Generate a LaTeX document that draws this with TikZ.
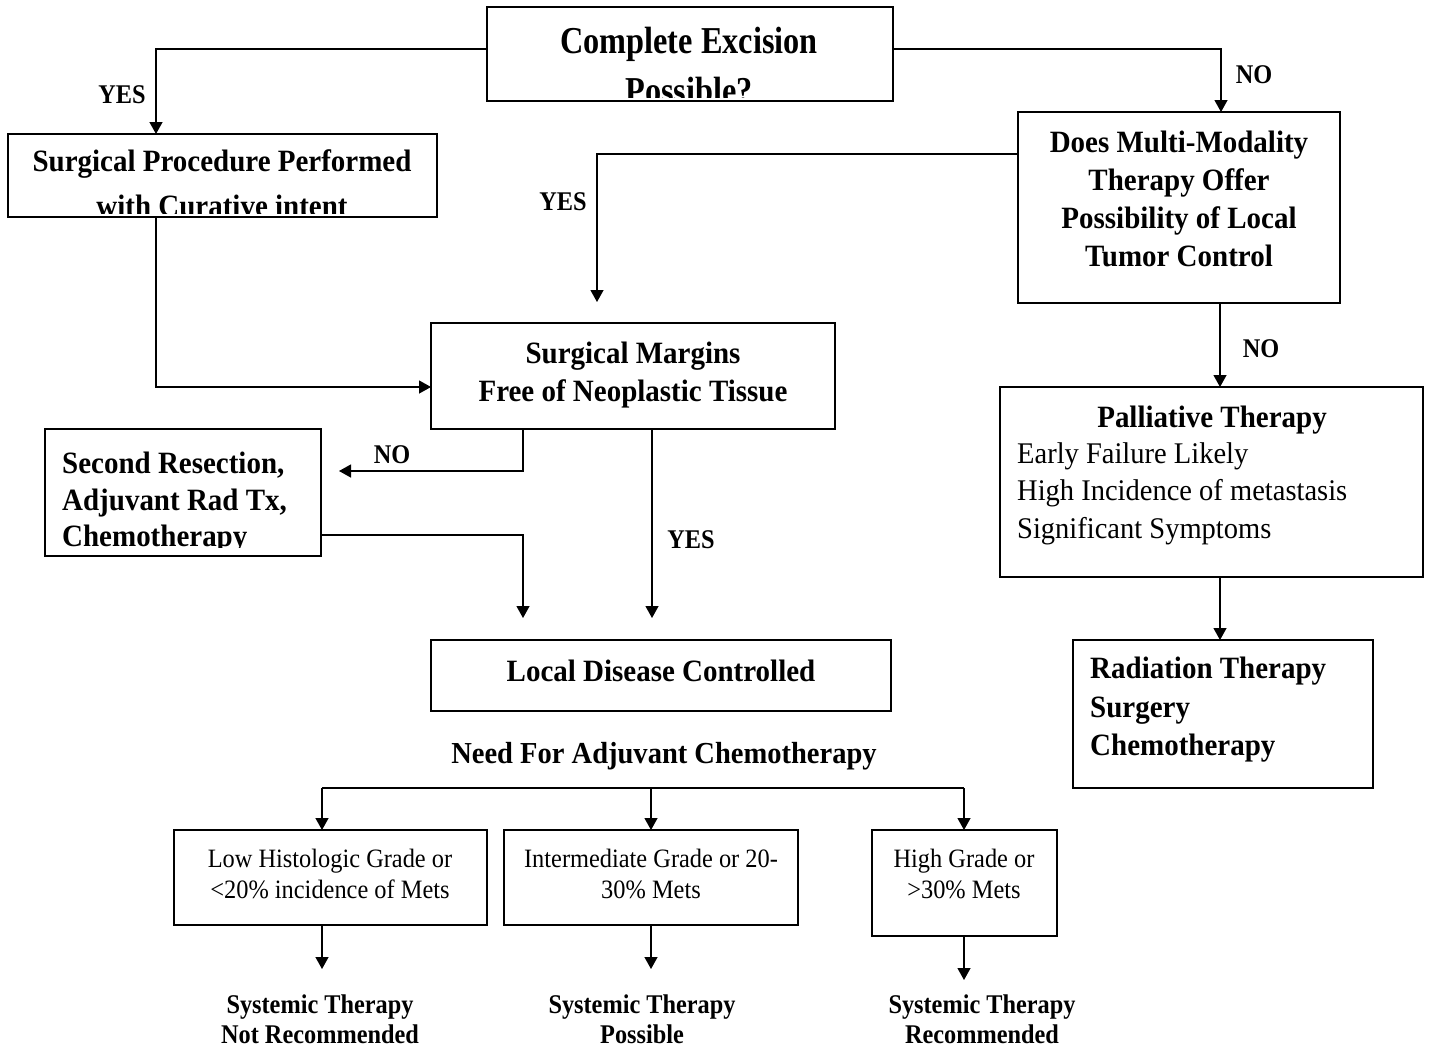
\documentclass[tikz,border=0pt]{standalone}
\usepackage{fontspec}
\setmainfont{Liberation Serif}
\newfontfamily\ttlfont{Liberation Serif}[FakeStretch=0.85]
\newfontfamily\mbfont{Liberation Serif}[FakeStretch=0.935]
\newfontfamily\sbfont{Liberation Serif}[FakeStretch=0.9]
\newfontfamily\rgafont{Liberation Serif}[FakeStretch=0.95]
\newfontfamily\rgbfont{Liberation Serif}[FakeStretch=0.92]
\usetikzlibrary{arrows.meta}
\begin{document}
\begin{tikzpicture}[x=1pt,y=-1pt,
  box/.style={draw, line width=1.3pt, inner sep=0pt, outer sep=0pt},
  ln/.style={line width=1.3pt},
  arr/.style={ln, -{Triangle[length=12pt,width=13pt]}},
  ttxt/.style={anchor=base, inner sep=0pt, font=\ttlfont\bfseries\fontsize{38}{44}\selectfont},
  btxt/.style={anchor=base, inner sep=0pt, font=\mbfont\bfseries\fontsize{31}{36}\selectfont},
  ltxt/.style={anchor=base, inner sep=0pt, font=\sbfont\bfseries\fontsize{27}{32}\selectfont},
  rtxt/.style={anchor=base, inner sep=0pt, font=\rgafont\fontsize{30}{36}\selectfont},
  stxt/.style={anchor=base, inner sep=0pt, font=\rgbfont\fontsize{26.5}{31}\selectfont},
]
\fill[white] (0,0) rectangle (1429,1050);
\useasboundingbox (0,0) rectangle (1429,1050);

% boxes
\node[box, minimum width=406pt, minimum height=94pt] (top) at (690,54) {};
\node[box, minimum width=429pt, minimum height=83pt] (surg) at (222.5,175.5) {};
\node[box, minimum width=322pt, minimum height=191pt] (does) at (1179,207.5) {};
\node[box, minimum width=404pt, minimum height=106pt] (marg) at (633,376) {};
\node[box, minimum width=276pt, minimum height=127pt] (second) at (183,492.5) {};
\node[box, minimum width=460pt, minimum height=71pt] (local) at (661,675.5) {};
\node[box, minimum width=423pt, minimum height=190pt] (pall) at (1211.5,482) {};
\node[box, minimum width=300pt, minimum height=148pt] (rad) at (1223,714) {};
\node[box, minimum width=313pt, minimum height=95pt] (boxa) at (330.5,877.5) {};
\node[box, minimum width=294pt, minimum height=95pt] (boxb) at (651,877.5) {};
\node[box, minimum width=185pt, minimum height=106pt] (boxc) at (964.5,883) {};

% clipped texts
\begin{scope}
  \clip (487,7) rectangle (893,97);
  \node[ttxt] (t1) at (689,53) {Complete Excision};
  \node[ttxt] (t2) at (689,103) {Possible?};
\end{scope}
\begin{scope}
  \clip (8,134) rectangle (437,213);
  \node[btxt] (s1) at (222,171) {Surgical Procedure Performed};
  \node[btxt] (s2) at (222,216) {with Curative intent};
\end{scope}
\begin{scope}
  \clip (45,429) rectangle (321,547);
  \node[btxt, anchor=base west] (r1) at (62,473) {Second Resection,};
  \node[btxt, anchor=base west] (r2) at (62,510) {Adjuvant Rad Tx,};
  \node[btxt, anchor=base west] (r3) at (62,546) {Chemotherapy};
\end{scope}

% other texts
\node[btxt] (d1) at (1179,152) {Does Multi-Modality};
\node[btxt] (d2) at (1179,190) {Therapy Offer};
\node[btxt] (d3) at (1179,228) {Possibility of Local};
\node[btxt] (d4) at (1179,266) {Tumor Control};

\node[btxt] (m1) at (633,363) {Surgical Margins};
\node[btxt] (m2) at (633,401) {Free of Neoplastic Tissue};

\node[btxt] (lc) at (661,681) {Local Disease Controlled};
\node[btxt, font=\mbfont\bfseries\fontsize{30.5}{36}\selectfont] (need) at (664,763) {Need For Adjuvant Chemotherapy};

\node[btxt] (p1) at (1212,427) {Palliative Therapy};
\node[rtxt, anchor=base west] (p2) at (1017,463) {Early Failure Likely};
\node[rtxt, anchor=base west] (p3) at (1017,500) {High Incidence of metastasis};
\node[rtxt, anchor=base west] (p4) at (1017,538) {Significant Symptoms};

\node[btxt, anchor=base west] (q1) at (1090,678) {Radiation Therapy};
\node[btxt, anchor=base west] (q2) at (1090,717) {Surgery};
\node[btxt, anchor=base west] (q3) at (1090,755) {Chemotherapy};

\node[stxt] (a1) at (330,867) {Low Histologic Grade or};
\node[stxt] (a2) at (330,898) {<20\% incidence of Mets};
\node[stxt] (b1) at (651,867) {Intermediate Grade or 20-};
\node[stxt] (b2) at (651,898) {30\% Mets};
\node[stxt] (c1) at (964,867) {High Grade or};
\node[stxt] (c2) at (964,898) {>30\% Mets};

\node[ltxt] (sa1) at (320,1013) {Systemic Therapy};
\node[ltxt] (sa2) at (320,1043) {Not Recommended};
\node[ltxt] (sb1) at (642,1013) {Systemic Therapy};
\node[ltxt] (sb2) at (642,1043) {Possible};
\node[ltxt] (sc1) at (982,1013) {Systemic Therapy};
\node[ltxt] (sc2) at (982,1043) {Recommended};

% labels
\node[ltxt] (lyes1) at (122,103) {YES};
\node[ltxt] (lno1) at (1254,83) {NO};
\node[ltxt] (lyes2) at (563,210) {YES};
\node[ltxt] (lno2) at (1261,357) {NO};
\node[ltxt] (lno3) at (392,463) {NO};
\node[ltxt] (lyes3) at (691,548) {YES};

% connectors
\coordinate (cl) at (156,49);
\coordinate (cr) at (1221,49);
\draw[arr] (top.west |- cl) -- (cl) -- (cl |- surg.north);
\draw[arr] (top.east |- cr) -- (cr) -- (cr |- does.north);

\coordinate (cy) at (597,154);
\coordinate (cyend) at (597,302);
\draw[arr] (does.west |- cy) -- (cy) -- (cyend);

\coordinate (cs) at (156,387);
\draw[arr] (cs |- surg.south) -- (cs) -- (cs -| marg.west);

\coordinate (cdn) at (1220,0);
\draw[arr] (cdn |- does.south) -- (cdn |- pall.north);
\draw[arr] (cdn |- pall.south) -- (cdn |- rad.north);

\coordinate (cno) at (523,471);
\coordinate (cnoend) at (339,471);
\draw[arr] (cno |- marg.south) -- (cno) -- (cnoend);

\coordinate (cyes) at (652,618);
\draw[arr] (cyes |- marg.south) -- (cyes);

\coordinate (csec) at (523,535);
\coordinate (csecend) at (523,618);
\draw[arr] (second.east |- csec) -- (csec) -- (csecend);

\coordinate (da) at (322,788);
\coordinate (db) at (651,788);
\coordinate (dc) at (964,788);
\draw[ln] (da) -- (dc);
\draw[arr] (da) -- (da |- boxa.north);
\draw[arr] (db) -- (db |- boxb.north);
\draw[arr] (dc) -- (dc |- boxc.north);

\coordinate (ea) at (322,969);
\coordinate (eb) at (651,969);
\coordinate (ec) at (964,980);
\draw[arr] (ea |- boxa.south) -- (ea);
\draw[arr] (eb |- boxb.south) -- (eb);
\draw[arr] (ec |- boxc.south) -- (ec);
\end{tikzpicture}
\end{document}
